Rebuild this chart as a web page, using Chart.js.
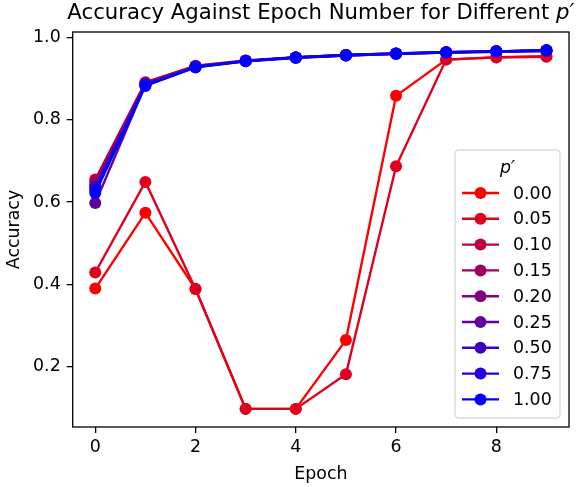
<!DOCTYPE html>
<html>
<head>
<meta charset="utf-8">
<script src="https://cdn.jsdelivr.net/npm/chart.js@4/dist/chart.umd.min.js"></script>
<style>
  html, body { margin: 0; padding: 0; background: #ffffff; }
  #wrap { width: 577px; height: 487px; }
</style>
</head>
<body>
<div id="wrap"><canvas id="c" width="577" height="487"></canvas></div>
<script>
// ---- data ----
const epochs = [0, 1, 2, 3, 4, 5, 6, 7, 8, 9];
const pLabels = ['0.00', '0.05', '0.10', '0.15', '0.20', '0.25', '0.50', '0.75', '1.00'];
const acc_p000 = [0.390, 0.574, 0.389, 0.098, 0.098, 0.265, 0.858, 0.946, 0.951, 0.953];
const acc_p005 = [0.429, 0.649, 0.389, 0.098, 0.098, 0.182, 0.687, 0.946, 0.952, 0.954];
const acc_p010 = [0.655, 0.891, 0.931, 0.944, 0.952, 0.957, 0.961, 0.964, 0.966, 0.968];
const acc_p015 = [0.647, 0.889, 0.930, 0.943, 0.951, 0.957, 0.960, 0.963, 0.966, 0.968];
const acc_p020 = [0.641, 0.887, 0.929, 0.943, 0.951, 0.956, 0.960, 0.963, 0.965, 0.967];
const acc_p025 = [0.598, 0.884, 0.928, 0.942, 0.950, 0.956, 0.960, 0.963, 0.965, 0.967];
const acc_p050 = [0.636, 0.886, 0.929, 0.943, 0.951, 0.957, 0.961, 0.964, 0.966, 0.968];
const acc_p075 = [0.630, 0.884, 0.928, 0.943, 0.951, 0.956, 0.960, 0.964, 0.966, 0.968];
const acc_p100 = [0.622, 0.882, 0.927, 0.942, 0.951, 0.957, 0.961, 0.964, 0.966, 0.969];
const seriesValues = [acc_p000, acc_p005, acc_p010, acc_p015, acc_p020, acc_p025, acc_p050, acc_p075, acc_p100];
const seriesColors = ['#ff0000', '#df0020', '#bf0040', '#9f0060', '#800080', '#6000a0', '#4000bf', '#2000df', '#0000ff'];
const xTickValues = [0, 2, 4, 6, 8];
const yTickValues = [0.2, 0.4, 0.6, 0.8, 1.0];

const FONT = '"DejaVu Sans", "Liberation Sans", sans-serif';
const FS = 17.4;
const TITLE_FS = 21.2;

const datasets = seriesValues.map((vals, i) => ({
  label: pLabels[i],
  data: epochs.map((e, k) => ({ x: e, y: vals[k] })),
  borderColor: seriesColors[i],
  backgroundColor: seriesColors[i],
  pointBackgroundColor: seriesColors[i],
  pointBorderColor: seriesColors[i],
  pointBorderWidth: 0,
  pointRadius: 6,
  pointHoverRadius: 6,
  borderWidth: 2.4,
  tension: 0,
  fill: false,
  order: seriesValues.length - 1 - i
}));

const framePlugin = {
  id: 'frame',
  beforeDatasetsDraw(chart) {
    const a = chart.chartArea, ctx = chart.ctx;
    ctx.save();
    ctx.strokeStyle = '#000';
    ctx.lineWidth = 1.3;
    ctx.strokeRect(a.left, a.top, a.right - a.left, a.bottom - a.top);
    ctx.restore();
  }
};

const titlePlugin = {
  id: 'mplTitle',
  afterDraw(chart) {
    const a = chart.chartArea, ctx = chart.ctx;
    const main = 'Accuracy Against Epoch Number for Different ';
    const sym = 'p\u2032';
    ctx.save();
    ctx.fillStyle = '#000';
    ctx.textBaseline = 'alphabetic';
    ctx.font = TITLE_FS + 'px ' + FONT;
    const w1 = ctx.measureText(main).width;
    ctx.font = 'italic ' + TITLE_FS + 'px ' + FONT;
    const w2 = ctx.measureText(sym).width;
    const cx = (a.left + a.right) / 2;
    let x = cx - (w1 + w2) / 2;
    const y = a.top - 13;
    ctx.font = TITLE_FS + 'px ' + FONT;
    ctx.fillText(main, x, y);
    ctx.font = 'italic ' + TITLE_FS + 'px ' + FONT;
    ctx.fillText(sym, x + w1, y);
    ctx.restore();
  }
};

const legendPlugin = {
  id: 'mplLegend',
  afterDraw(chart) {
    const a = chart.chartArea, ctx = chart.ctx;
    const n = chart.data.datasets.length;
    const rowH = 25.8;
    const boxW = 105;
    const boxH = 268;
    const x1 = a.right - 9, y1 = a.bottom - 9;
    const x0 = x1 - boxW, y0 = y1 - boxH;
    ctx.save();
    const r = 3.5;
    ctx.beginPath();
    ctx.moveTo(x0 + r, y0);
    ctx.lineTo(x1 - r, y0);
    ctx.quadraticCurveTo(x1, y0, x1, y0 + r);
    ctx.lineTo(x1, y1 - r);
    ctx.quadraticCurveTo(x1, y1, x1 - r, y1);
    ctx.lineTo(x0 + r, y1);
    ctx.quadraticCurveTo(x0, y1, x0, y1 - r);
    ctx.lineTo(x0, y0 + r);
    ctx.quadraticCurveTo(x0, y0, x0 + r, y0);
    ctx.closePath();
    ctx.fillStyle = 'rgba(255,255,255,0.8)';
    ctx.fill();
    ctx.strokeStyle = '#cccccc';
    ctx.lineWidth = 1;
    ctx.stroke();
    ctx.fillStyle = '#000';
    ctx.font = 'italic ' + FS + 'px ' + FONT;
    ctx.textAlign = 'center';
    ctx.textBaseline = 'middle';
    ctx.fillText('p\u2032', x0 + boxW / 2, y0 + 18);
    ctx.textAlign = 'left';
    ctx.font = FS + 'px ' + FONT;
    for (let i = 0; i < n; i++) {
      const ds = chart.data.datasets[i];
      const y = y0 + 43 + i * rowH;
      const lx0 = x0 + 7, lx1 = x0 + 44;
      ctx.strokeStyle = ds.borderColor;
      ctx.lineWidth = ds.borderWidth;
      ctx.beginPath();
      ctx.moveTo(lx0, y);
      ctx.lineTo(lx1, y);
      ctx.stroke();
      ctx.fillStyle = ds.borderColor;
      ctx.beginPath();
      ctx.arc((lx0 + lx1) / 2, y, 6, 0, Math.PI * 2);
      ctx.fill();
      ctx.fillStyle = '#000';
      ctx.fillText(ds.label, x0 + 58, y + 1);
    }
    ctx.restore();
  }
};

new Chart(document.getElementById('c'), {
  type: 'line',
  data: { datasets },
  options: {
    responsive: false,
    animation: false,
    devicePixelRatio: 1,
    layout: { padding: { top: 32, right: 8, bottom: 0, left: 0 } },
    plugins: {
      legend: { display: false },
      title: { display: false },
      tooltip: { enabled: false }
    },
    scales: {
      x: {
        type: 'linear',
        min: -0.45,
        max: 9.45,
        afterBuildTicks(scale) { scale.ticks = xTickValues.map(v => ({ value: v })); },
        afterFit(scale) { scale.height = 60; },
        grid: { display: true, drawOnChartArea: false, drawTicks: true, tickLength: 6, color: '#000', lineWidth: 1.3 },
        border: { display: false },
        ticks: {
          color: '#000',
          font: { family: FONT, size: FS },
          padding: 4,
          maxRotation: 0,
          callback: v => String(v)
        },
        title: {
          display: true,
          text: 'Epoch',
          color: '#000',
          font: { family: FONT, size: FS },
          padding: { top: 0, bottom: 2 }
        }
      },
      y: {
        type: 'linear',
        min: 0.054,
        max: 1.013,
        afterBuildTicks(scale) { scale.ticks = yTickValues.map(v => ({ value: v })); },
        afterFit(scale) { scale.width = 72.7; },
        grid: { display: true, drawOnChartArea: false, drawTicks: true, tickLength: 6, color: '#000', lineWidth: 1.3 },
        border: { display: false },
        ticks: {
          color: '#000',
          font: { family: FONT, size: FS },
          padding: 6,
          callback: v => v.toFixed(1)
        },
        title: {
          display: true,
          text: 'Accuracy',
          color: '#000',
          font: { family: FONT, size: FS },
          padding: { top: 4.5, bottom: 0 }
        }
      }
    }
  },
  plugins: [framePlugin, titlePlugin, legendPlugin]
});
</script>
</body>
</html>
